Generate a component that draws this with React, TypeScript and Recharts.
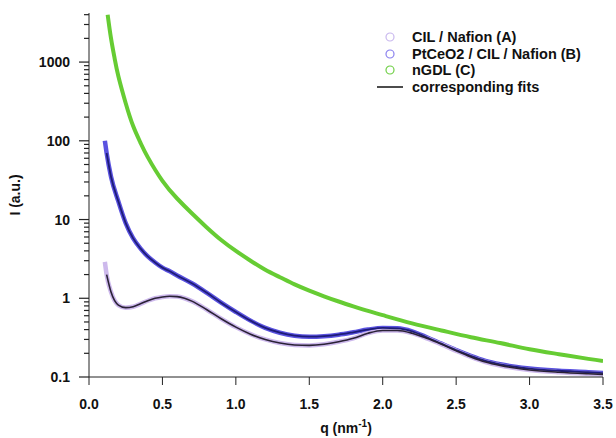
import { ComposedChart, Line, XAxis, YAxis, Label } from 'recharts';

// CIL / Nafion (A)
const qA = [0.108, 0.12, 0.15, 0.2, 0.25, 0.3, 0.35, 0.4, 0.45, 0.5, 0.55, 0.6, 0.65, 0.7, 0.8, 0.9, 1.0, 1.1, 1.2, 1.3, 1.4, 1.5, 1.6, 1.7, 1.8, 1.9, 2.0, 2.1, 2.2, 2.3, 2.4, 2.5, 2.6, 2.7, 2.8, 2.9, 3.0, 3.2, 3.4, 3.5];
const intensityA = [2.9, 2.0, 1.2, 0.82, 0.76, 0.78, 0.85, 0.93, 1.0, 1.04, 1.06, 1.05, 1.0, 0.92, 0.72, 0.55, 0.43, 0.35, 0.3, 0.27, 0.255, 0.252, 0.26, 0.28, 0.31, 0.36, 0.39, 0.39, 0.36, 0.31, 0.26, 0.215, 0.18, 0.155, 0.14, 0.13, 0.123, 0.115, 0.11, 0.108];

// PtCeO2 / CIL / Nafion (B)
const qB = [0.108, 0.12, 0.15, 0.2, 0.25, 0.3, 0.35, 0.4, 0.45, 0.5, 0.55, 0.6, 0.7, 0.8, 0.9, 1.0, 1.1, 1.2, 1.3, 1.4, 1.5, 1.6, 1.7, 1.8, 1.9, 2.0, 2.1, 2.2, 2.3, 2.4, 2.5, 2.6, 2.7, 2.8, 2.9, 3.0, 3.2, 3.4, 3.5];
const intensityB = [100, 70, 35, 17, 9, 5.8, 4.3, 3.4, 2.85, 2.45, 2.2, 1.95, 1.55, 1.18, 0.88, 0.67, 0.52, 0.42, 0.365, 0.335, 0.325, 0.33, 0.345, 0.37, 0.4, 0.42, 0.415, 0.38, 0.32, 0.265, 0.22, 0.185, 0.16, 0.145, 0.135, 0.128, 0.12, 0.115, 0.112];

// nGDL (C)
const qC = [0.127, 0.15, 0.175, 0.2, 0.25, 0.3, 0.35, 0.4, 0.5, 0.6, 0.7, 0.8, 0.9, 1.0, 1.1, 1.2, 1.3, 1.4, 1.5, 1.6, 1.7, 1.8, 1.9, 2.0, 2.2, 2.4, 2.6, 2.8, 3.0, 3.2, 3.4, 3.5];
const intensityC = [4000, 2000, 1100, 660, 300, 155, 95, 62, 31, 18.5, 12, 8.0, 5.5, 4.0, 3.0, 2.3, 1.85, 1.5, 1.25, 1.06, 0.91, 0.79, 0.69, 0.61, 0.48, 0.39, 0.32, 0.27, 0.225, 0.195, 0.17, 0.16];

const xTicks = [0, 0.5, 1.0, 1.5, 2.0, 2.5, 3.0, 3.5];
const yMajorTicks = [0.1, 1, 10, 100, 1000];
const yMinorTicks = [0.2, 0.3, 0.4, 0.5, 0.6, 0.7, 0.8, 0.9, 2, 3, 4, 5, 6, 7, 8, 9, 20, 30, 40, 50, 60, 70, 80, 90, 200, 300, 400, 500, 600, 700, 800, 900, 2000, 3000, 4000];

const legendLabels = ['CIL / Nafion (A)', 'PtCeO2 / CIL / Nafion (B)', 'nGDL (C)', 'corresponding fits'];
const legendColors = ['#c9b8ee', '#8a80ee', '#6fcf45', '#111111'];

const toRows = (qs: number[], ys: number[]) => qs.map((q, i) => ({ q, y: ys[i] }));
const dataA = toRows(qA, intensityA);
const dataB = toRows(qB, intensityB);
const dataC = toRows(qC, intensityC);
const fitA = dataA.slice(1);
const fitB = dataB.slice(1);

const FONT = '"Liberation Sans", Arial, sans-serif';

const YTick = ({ x, y, payload }: any) => {
  const major = yMajorTicks.includes(payload.value);
  return (
    <g>
      <line x1={x - (major ? 10 : 5)} x2={x} y1={y} y2={y} stroke="#222" strokeWidth={1.2} />
      {major && (
        <text x={x - 19} y={y} dy={5} textAnchor="end" fontFamily={FONT} fontWeight="bold" fontSize={14} fill="#111">
          {payload.value}
        </text>
      )}
    </g>
  );
};

const ChartLegend = () => (
  <div style={{ position: 'absolute', top: 29, left: 374, fontFamily: FONT, fontWeight: 'bold', fontSize: 14.5, color: '#111' }}>
    {legendLabels.map((label, i) => (
      <div key={label} style={{ display: 'flex', alignItems: 'center', height: 16.5 }}>
        <svg width={32} height={12} style={{ marginRight: 6 }}>
          {i < 3 ? (
            <circle cx={16} cy={6} r={4} fill="none" stroke={legendColors[i]} strokeWidth={1.2} />
          ) : (
            <line x1={3} x2={29} y1={6} y2={6} stroke={legendColors[i]} strokeWidth={1.5} />
          )}
        </svg>
        <span>{label}</span>
      </div>
    ))}
  </div>
);

export default function App() {
  return (
    <div style={{ position: 'absolute', left: 0, top: 0, width: 616, height: 438, background: '#fff' }}>
      <ComposedChart width={616} height={438} margin={{ top: 13, right: 13, left: 0, bottom: 0 }}>
        <XAxis
          dataKey="q"
          type="number"
          domain={[0, 3.5]}
          ticks={xTicks}
          interval={0}
          allowDataOverflow
          tickFormatter={(v: number) => v.toFixed(1)}
          tickSize={8}
          tickMargin={14}
          height={61}
          stroke="#222"
          tick={{ fill: '#111', fontFamily: FONT, fontWeight: 'bold', fontSize: 14 }}
        >
          <Label
            content={({ viewBox }: any) => (
              <text x={viewBox.x + viewBox.width / 2} y={433} textAnchor="middle" fontFamily={FONT} fontWeight="bold" fontSize={14} fill="#111">
                q (nm<tspan dy={-6} fontSize={10}>-1</tspan><tspan dy={6}>)</tspan>
              </text>
            )}
          />
        </XAxis>
        <YAxis
          type="number"
          scale="log"
          domain={[0.1, 4200]}
          allowDataOverflow
          ticks={[...yMajorTicks, ...yMinorTicks]}
          interval={0}
          width={89}
          tickLine={false}
          tickSize={0}
          tickMargin={0}
          stroke="#222"
          tick={<YTick />}
        >
          <Label
            content={({ viewBox }: any) => (
              <text
                x={15}
                y={viewBox.y + viewBox.height / 2}
                transform={`rotate(-90 15 ${viewBox.y + viewBox.height / 2})`}
                dy={5}
                textAnchor="middle"
                fontFamily={FONT}
                fontWeight="bold"
                fontSize={14}
                fill="#111"
              >
                I (a.u.)
              </text>
            )}
          />
        </YAxis>
        <Line data={dataC} dataKey="y" type="natural" stroke="#66cc33" strokeWidth={4} dot={false} isAnimationActive={false} />
        <Line data={dataB} dataKey="y" type="monotone" stroke="#5a52e0" strokeWidth={4.5} dot={false} isAnimationActive={false} />
        <Line data={dataA} dataKey="y" type="monotone" stroke="#cdb9ec" strokeWidth={4.5} dot={false} isAnimationActive={false} />
        <Line data={fitB} dataKey="y" type="monotone" stroke="#1e1c78" strokeWidth={1.8} dot={false} isAnimationActive={false} />
        <Line data={fitA} dataKey="y" type="monotone" stroke="#2a2236" strokeWidth={1.6} dot={false} isAnimationActive={false} />
      </ComposedChart>
      <ChartLegend />
    </div>
  );
}
